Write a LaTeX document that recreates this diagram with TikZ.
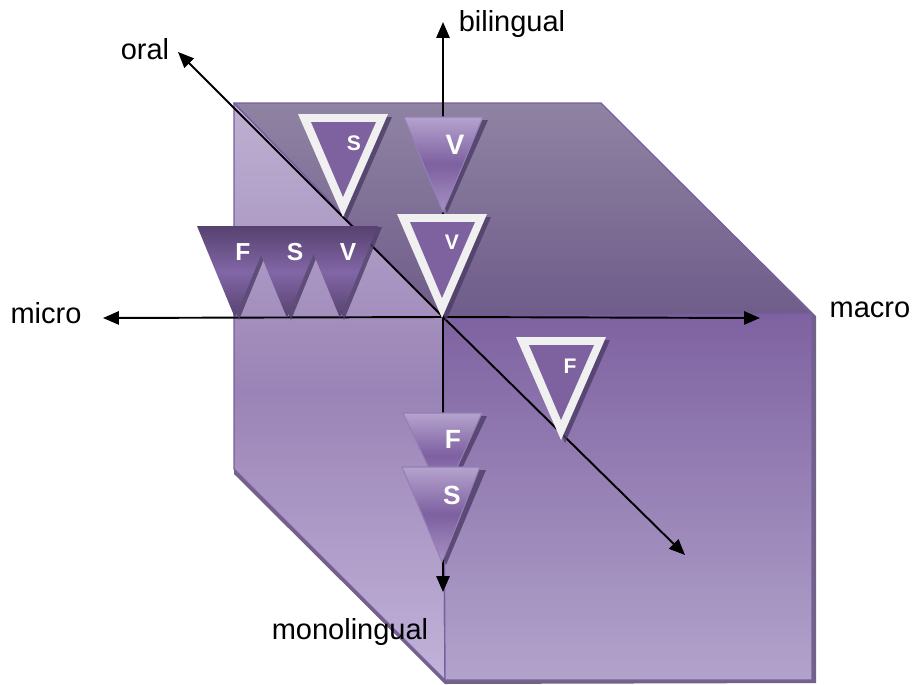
\documentclass[tikz,border=0pt]{standalone}
\usepackage{fontspec}
\setmainfont{Liberation Sans}
\usetikzlibrary{arrows.meta, calc}
\definecolor{cTopA}{HTML}{8F83A3}
\definecolor{cTopB}{HTML}{6F5C8A}
\definecolor{cLeftA}{HTML}{BEB0D2}
\definecolor{cLeftM}{HTML}{9A83B6}
\definecolor{cLeftB}{HTML}{C2B3D9}
\definecolor{cFrontA}{HTML}{7E62A1}
\definecolor{cFrontB}{HTML}{B2A3CB}
\definecolor{cEdge}{HTML}{7A5EA2}
\definecolor{cShade}{HTML}{4C3C66}
\definecolor{cDarkA}{HTML}{56426F}
\definecolor{cDarkM}{HTML}{8266A6}
\definecolor{cLightA}{HTML}{B5A3CE}
\definecolor{cLightM}{HTML}{7D60A0}
\definecolor{cLightB}{HTML}{A892C4}
\definecolor{cInner}{HTML}{7E62A0}
\definecolor{cRim}{HTML}{F0F0F0}

\begin{document}
\begin{tikzpicture}[
  x=0.02cm, y=-0.02cm,
  axis/.style={-{Triangle[length=9pt, width=7.5pt]}, line width=1.1pt, black},
  lbl/.style={font=\fontsize{16.5}{19}\selectfont, text=black, inner sep=0pt},
  tag/.style={font=\bfseries\fontsize{#1}{#1}\selectfont, text=white, inner sep=0pt},
  face/.style={draw=cEdge, line width=0.8pt, line join=round},
  shadow/.style={fill=cShade, opacity=0.8},
  darktri/.style={shade, top color=cDarkA, bottom color=cDarkA, middle color=cDarkM},
  lighttri/.style={shade, top color=cLightA, bottom color=cLightB, middle color=cLightM,
    draw=cEdge!80, line width=0.6pt},
]
\useasboundingbox (0,0) rectangle (914,684);

% cube corners
\coordinate (tl) at (234,103);
\coordinate (tr) at (601,103);
\coordinate (rr) at (812,314);
\coordinate (o)  at (443,317);
\coordinate (bl) at (234,469);
\coordinate (bb) at (445,680);
\coordinate (br) at (812,680);

% cube shadow and faces
\fill[shadow] (tl) -- (tr) -- ($(rr)+(4,2)$) -- ($(br)+(4,3)$)
  -- ($(bb)+(0,4)$) -- ($(bl)+(0,5)$) -- cycle;
\shade[face, top color=cLeftA, bottom color=cLeftB, middle color=cLeftM]
  (tl) -- (o) -- (bb) -- (bl) -- cycle;
\shade[face, top color=cTopA, bottom color=cTopB]
  (tl) -- (tr) -- (rr) -- (o) -- cycle;
\shade[face, top color=cFrontA, bottom color=cFrontB]
  (o) -- (rr) -- (br) -- (bb) -- cycle;

% axis ends
\coordinate (bil) at (443,22);
\coordinate (mono) at (443,592);
\coordinate (mic) at (103,318);
\coordinate (mac) at (760,318);
\coordinate (ora) at (178,52);
\coordinate (diag) at (685,555);

% axes
\draw[axis] (o) -- (bil);
\draw[axis] (o) -- (mono);
\draw[axis] (o) -- (mic);
\draw[axis] (o) -- (mac);
\draw[axis] (o) -- (ora);
\draw[axis] (o) -- (diag);

% axis labels
\node[lbl] (oral) at (145,49) {oral};
\node[lbl] (bilingual) at (512,24) {bilingual};
\node[lbl] (micro) at (46,313) {micro};
\node[lbl] (macro) at (870,310) {macro};
\node[lbl] (monolingual) at (350,632) {monolingual};

% outlined triangles
\foreach \x/\y/\w/\h in {343/114/45/103, 442/214/45/104, 561/337/45/103} {
  \fill[shadow] (\x-\w+4,\y+3) -- (\x+\w+4,\y+3) -- (\x+4,\y+\h+3) -- cycle;
  \fill[cRim] (\x-\w,\y) -- (\x+\w,\y) -- (\x,\y+\h) -- cycle;
  \fill[cInner] (\x-\w+13,\y+8) -- (\x+\w-12,\y+8) -- (\x,\y+\h-20) -- cycle;
}
\node[tag=12] (sSmall) at (354,143) {S};
\node[tag=12] (vSmall) at (452,242) {V};
\node[tag=12] (fSmall) at (570,366) {F};

% gradient triangle on the bilingual axis
\fill[shadow] (409,120) -- (488,120) -- (447,213) -- cycle;
\path[lighttri] (404,117) -- (483,117) -- (443,212) -- cycle;
\node[tag=16] (vBig) at (455,145) {V};

% row of dark triangles
\foreach \x/\t/\n in {235/F/fDark, 287/S/sDark, 340/V/vDark} {
  \fill[shadow] (\x-34,227) -- (\x+42,227) -- (\x+4,320) -- cycle;
  \path[darktri] (\x-38,226) -- (\x+38,226) -- (\x,318) -- cycle;
  \node[tag=14] (\n) at (\x+8,252) {\t};
}

% gradient triangles on the monolingual axis
\fill[shadow] (408,416) -- (487,416) -- (447,500) -- cycle;
\path[lighttri] (403,413) -- (482,413) -- (443,498) -- cycle;
\node[tag=15] (fLow) at (453,439) {F};
\fill[shadow] (407,470) -- (486,470) -- (446,565) -- cycle;
\path[lighttri] (402,467) -- (480,467) -- (442,562) -- cycle;
\node[tag=15] (sLow) at (452,495) {S};
\end{tikzpicture}
\end{document}
